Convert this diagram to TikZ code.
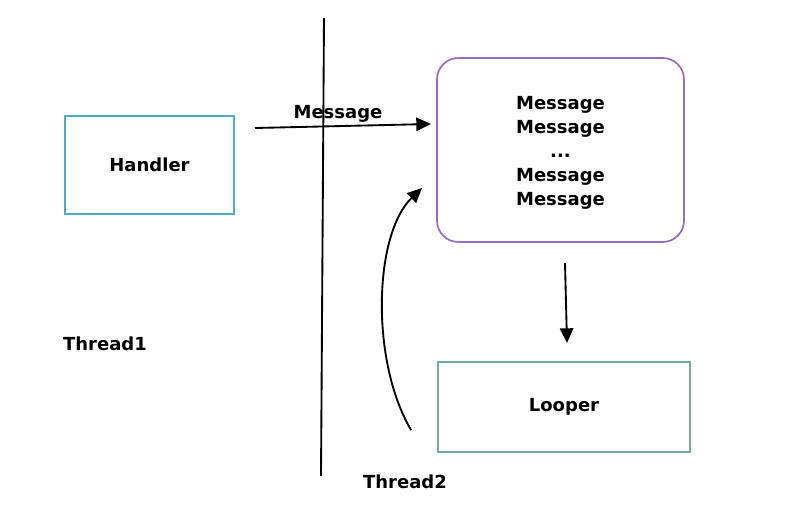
\documentclass[tikz,border=0pt]{standalone}
\usepackage{fontspec}
\setmainfont{DejaVu Sans}
\usepackage{tikz}
\usetikzlibrary{arrows.meta}
\definecolor{handlerc}{RGB}{75,172,198}
\definecolor{queuec}{RGB}{150,110,190}
\definecolor{looperc}{RGB}{118,170,150}
\tikzset{
  lbl/.style={font=\fontsize{13.5}{18}\selectfont\bfseries},
  box/.style={draw, line width=1.3pt, lbl, align=center, inner sep=0pt},
  arr/.style={line width=1.4pt, -{Triangle[length=11pt,width=10pt]}}
}
\begin{document}
\begin{tikzpicture}[x=0.75pt,y=-0.75pt]
\useasboundingbox (0,0) rectangle (801,527);
\node[box, draw=handlerc, minimum width=126.75pt, minimum height=73.5pt] (handler) at (149.5,165) {\raisebox{-1.5pt}{Handler}};
\node[box, draw=queuec, rounded corners=16pt, minimum width=185.25pt, minimum height=138pt] (queue) at (560.5,150) {};
\node[lbl, align=center] (queuetxt) at (560.5,153) {Message\\Message\\...\\Message\\Message};
\node[box, draw=looperc, minimum width=189pt, minimum height=67.5pt] (looper) at (564,407) {\raisebox{-1.5pt}{Looper}};
\node[lbl] (thr1) at (105,344) {Thread1};
\node[lbl] (thr2) at (405,482) {Thread2};
\node[lbl] (msg) at (338,114) {Message};
\coordinate (top) at (324,18);
\coordinate (bot) at (321,476);
\coordinate (send) at (255,128);
\coordinate (recv) at (431,124);
\coordinate (qout) at (565,263);
\coordinate (lin) at (567,343);
\coordinate (lback) at (411,430);
\coordinate (qin) at (422,188);
\draw[line width=1.4pt] (top) -- (bot);
\draw[arr] (send) -- (recv);
\draw[arr] (qout) -- (lin);
\draw[arr] (lback) .. controls (370,360) and (374,234) .. (qin);
\end{tikzpicture}
\end{document}
